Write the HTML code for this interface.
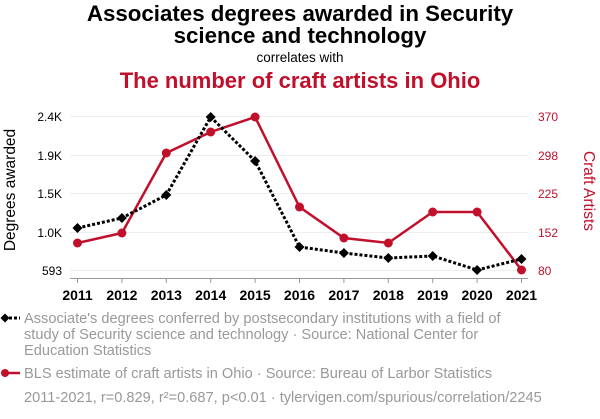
<!DOCTYPE html>
<html><head><meta charset="utf-8"><style>
body{margin:0;background:#fff;width:600px;height:414px;overflow:hidden;font-family:"Liberation Sans",sans-serif}
</style></head><body>
<svg width="600" height="414" xmlns="http://www.w3.org/2000/svg" font-family="Liberation Sans, sans-serif">
<text x="300" y="21" text-anchor="middle" font-size="22.3" font-weight="bold" fill="#000">Associates degrees awarded in Security</text>
<text x="300" y="43" text-anchor="middle" font-size="22.3" font-weight="bold" fill="#000">science and technology</text>
<text x="300" y="62" text-anchor="middle" font-size="13.5" fill="#000">correlates with</text>
<text x="300" y="88" text-anchor="middle" font-size="22" font-weight="bold" fill="#c0102b">The number of craft artists in Ohio</text>
<g stroke="#eee" stroke-width="1">
<line x1="70" x2="528" y1="116.5" y2="116.5"/><line x1="70" x2="528" y1="155.5" y2="155.5"/>
<line x1="70" x2="528" y1="193.5" y2="193.5"/><line x1="70" x2="528" y1="232.5" y2="232.5"/>
<line x1="70" x2="528" y1="270.5" y2="270.5"/></g>
<line x1="70" x2="528" y1="278.5" y2="278.5" stroke="#999"/>
<g stroke="#999"><line x1="77.5" x2="77.5" y1="278" y2="283"/><line x1="121.9" x2="121.9" y1="278" y2="283"/><line x1="166.3" x2="166.3" y1="278" y2="283"/><line x1="210.7" x2="210.7" y1="278" y2="283"/><line x1="255.1" x2="255.1" y1="278" y2="283"/><line x1="299.5" x2="299.5" y1="278" y2="283"/><line x1="343.9" x2="343.9" y1="278" y2="283"/><line x1="388.3" x2="388.3" y1="278" y2="283"/><line x1="432.7" x2="432.7" y1="278" y2="283"/><line x1="477.1" x2="477.1" y1="278" y2="283"/><line x1="521.5" x2="521.5" y1="278" y2="283"/></g>
<g font-size="14" font-weight="bold" text-anchor="middle" fill="#000">
<text x="77.5" y="300">2011</text><text x="121.9" y="300">2012</text><text x="166.3" y="300">2013</text><text x="210.7" y="300">2014</text><text x="255.1" y="300">2015</text><text x="299.5" y="300">2016</text><text x="343.9" y="300">2017</text><text x="388.3" y="300">2018</text><text x="432.7" y="300">2019</text><text x="477.1" y="300">2020</text><text x="521.5" y="300">2021</text></g>
<g font-size="12" text-anchor="end" fill="#000">
<text x="62" y="121">2.4K</text><text x="62" y="160">1.9K</text><text x="62" y="198">1.5K</text><text x="62" y="237">1.0K</text><text x="62" y="275">593</text></g>
<g font-size="12" fill="#c0102b">
<text x="538" y="121">370</text><text x="538" y="160">298</text><text x="538" y="198">225</text><text x="538" y="237">152</text><text x="538" y="275">80</text></g>
<text transform="translate(15,190) rotate(-90)" text-anchor="middle" font-size="15.5" fill="#000">Degrees awarded</text>
<text transform="translate(584,191) rotate(90)" text-anchor="middle" font-size="15.5" fill="#c0102b">Craft Artists</text>
<polyline fill="none" stroke="#c0102b" stroke-width="2.5" points="77.5,243 121.9,233 166.3,153 210.7,132 255.1,117 299.5,207 343.9,238 388.3,243 432.7,212 477.1,212 521.5,270"/>
<g fill="#c0102b"><circle cx="77.5" cy="243" r="4.5"/><circle cx="121.9" cy="233" r="4.5"/><circle cx="166.3" cy="153" r="4.5"/><circle cx="210.7" cy="132" r="4.5"/><circle cx="255.1" cy="117" r="4.5"/><circle cx="299.5" cy="207" r="4.5"/><circle cx="343.9" cy="238" r="4.5"/><circle cx="388.3" cy="243" r="4.5"/><circle cx="432.7" cy="212" r="4.5"/><circle cx="477.1" cy="212" r="4.5"/><circle cx="521.5" cy="270" r="4.5"/></g>
<polyline fill="none" stroke="#000" stroke-width="3" stroke-dasharray="3,2" points="77.5,228 121.9,218 166.3,195 210.7,117 255.1,161 299.5,247 343.9,253 388.3,258 432.7,256 477.1,270 521.5,259"/>
<g fill="#000">
<path d="M77.5,223 l5,5 l-5,5 l-5,-5z"/><path d="M121.9,213 l5,5 l-5,5 l-5,-5z"/><path d="M166.3,190 l5,5 l-5,5 l-5,-5z"/><path d="M210.7,112 l5,5 l-5,5 l-5,-5z"/><path d="M255.1,156 l5,5 l-5,5 l-5,-5z"/><path d="M299.5,242 l5,5 l-5,5 l-5,-5z"/><path d="M343.9,248 l5,5 l-5,5 l-5,-5z"/><path d="M388.3,253 l5,5 l-5,5 l-5,-5z"/><path d="M432.7,251 l5,5 l-5,5 l-5,-5z"/><path d="M477.1,265 l5,5 l-5,5 l-5,-5z"/><path d="M521.5,254 l5,5 l-5,5 l-5,-5z"/></g>
<line x1="4" x2="20" y1="318" y2="318" stroke="#000" stroke-width="3" stroke-dasharray="3,2"/>
<path d="M5,313.5 l4.5,4.5 l-4.5,4.5 l-4.5,-4.5z" fill="#000"/>
<g font-size="14.6" fill="#999">
<text x="24" y="323">Associate's degrees conferred by postsecondary institutions with a field of</text>
<text x="24" y="339">study of Security science and technology · Source: National Center for</text>
<text x="24" y="355">Education Statistics</text>
<text x="24" y="378">BLS estimate of craft artists in Ohio · Source: Bureau of Larbor Statistics</text>
<text x="24" y="402">2011-2021, r=0.829, r²=0.687, p&lt;0.01 · tylervigen.com/spurious/correlation/2245</text></g>
<line x1="4" x2="20" y1="373" y2="373" stroke="#c0102b" stroke-width="2.5"/>
<circle cx="5" cy="373" r="4" fill="#c0102b"/>
</svg>
</body></html>
